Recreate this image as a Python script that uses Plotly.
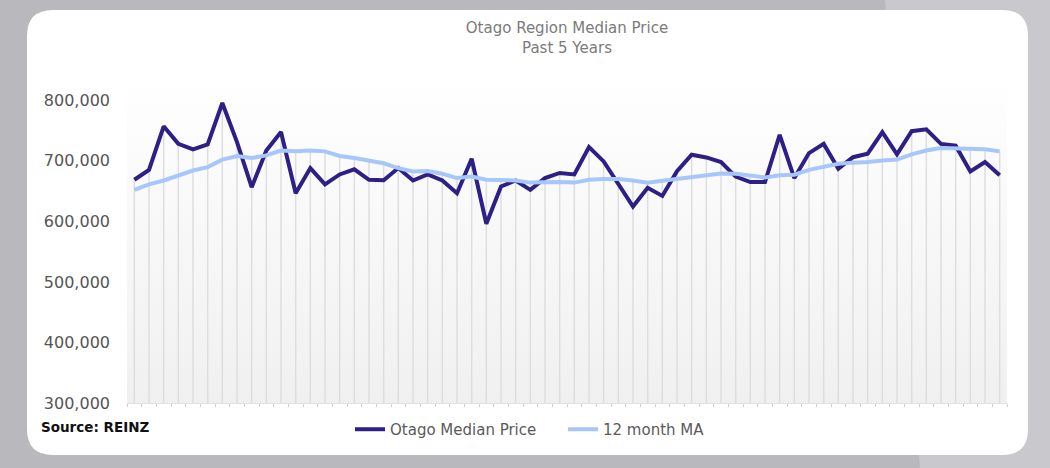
import plotly.graph_objects as go

# monthly values, last 5 years (60 months)
months = list(range(60))
median_price = [
    668700, 685000, 757000, 728000, 719000, 727000, 795500, 731000, 656500, 717000,
    747500, 646500, 688000, 661000, 677500, 686000, 668700, 668000, 688000, 667500,
    677500, 667500, 646500, 703500, 596000, 657600, 667500, 652000, 671500, 680000,
    677500, 722700, 699000, 660400, 624500, 655400, 642000, 683000, 710000, 705600,
    698000, 674000, 665000, 665000, 743000, 671500, 712800, 728000, 687000, 706000,
    711700, 747500, 710600, 749000, 752000, 728000, 725000, 682500, 698000, 676000,
]
ma_12 = [
    652000, 661000, 667500, 676000, 684000, 689600, 702000, 708000, 704500, 709000,
    717000, 715600, 717000, 715600, 708000, 704500, 700700, 696000, 688000, 682500,
    683000, 678600, 671500, 674000, 668700, 668000, 667500, 664000, 664700, 665000,
    664000, 668700, 670000, 670000, 667500, 663700, 667000, 670000, 673000, 677000,
    679000, 678600, 676000, 672500, 676000, 677000, 685000, 690700, 695000, 697000,
    698000, 700700, 702000, 710600, 717000, 721000, 720000, 720500, 719000, 715600,
]
y_ticks = [300000, 400000, 500000, 600000, 700000, 800000]
y_min, y_max = 300000, 850000

W, H = 1050, 468
ML, MR, MT, MB = 127, 43, 70, 65
PW, PH = W - ML - MR, H - MT - MB
FONT = "DejaVu Sans"


def px(x):
    return (x - ML) / PW


def py(y):
    return (H - MB - y) / PH


def rounded_rect(x0, y0, x1, y1, r):
    pts = [
        f"M {px(x0 + r)},{py(y0)}",
        f"L {px(x1 - r)},{py(y0)}",
        f"Q {px(x1)},{py(y0)} {px(x1)},{py(y0 + r)}",
        f"L {px(x1)},{py(y1 - r)}",
        f"Q {px(x1)},{py(y1)} {px(x1 - r)},{py(y1)}",
        f"L {px(x0 + r)},{py(y1)}",
        f"Q {px(x0)},{py(y1)} {px(x0)},{py(y1 - r)}",
        f"L {px(x0)},{py(y0 + r)}",
        f"Q {px(x0)},{py(y0)} {px(x0 + r)},{py(y0)}",
        "Z",
    ]
    return " ".join(pts)


fig = go.Figure()

# plot area gradient background
fig.add_trace(go.Scatter(
    x=[-0.5, 59.5, 59.5, -0.5, -0.5], y=[y_min, y_min, y_max, y_max, y_min],
    mode="lines", line=dict(width=0), fill="toself",
    fillgradient=dict(type="vertical", colorscale=[[0, "#f0f0f0"], [1, "#ffffff"]]),
    hoverinfo="skip", showlegend=False,
))

# drop lines
drop_x, drop_y = [], []
for m, a, b in zip(months, median_price, ma_12):
    drop_x += [m, m, None]
    drop_y += [y_min, max(a, b), None]
fig.add_trace(go.Scatter(
    x=drop_x, y=drop_y, mode="lines", line=dict(color="#dedede", width=1.5),
    hoverinfo="skip", showlegend=False,
))

fig.add_trace(go.Scatter(
    x=months, y=median_price, mode="lines", name="Otago Median Price",
    line=dict(color="#2d1f86", width=4),
))
fig.add_trace(go.Scatter(
    x=months, y=ma_12, mode="lines", name="12 month MA",
    line=dict(color="#a7c7fb", width=4),
))

shapes = [
    dict(type="path", xref="paper", yref="paper", layer="below",
         path=f"M {px(885)},{py(0)} L {px(1050)},{py(0)} L {px(1050)},{py(468)} L {px(920)},{py(468)} Z",
         fillcolor="#c9c8cd", line=dict(width=0)),
    dict(type="path", xref="paper", yref="paper", layer="below",
         path=rounded_rect(27, 10, 1028, 455, 26),
         fillcolor="#ffffff", line=dict(width=0)),
]

fig.update_layout(
    width=W, height=H,
    margin=dict(l=ML, r=MR, t=MT, b=MB),
    paper_bgcolor="#b9b8bd",
    plot_bgcolor="rgba(0,0,0,0)",
    font=dict(family=FONT, color="#555555"),
    title=dict(
        text="Otago Region Median Price<br>Past 5 Years",
        x=0.5, xref="paper", xanchor="center",
        y=1 - 33 / H, yanchor="top",
        font=dict(size=15, color="#7b7b7b"),
    ),
    shapes=shapes,
    xaxis=dict(
        range=[-0.5, 59.5], showgrid=False, showticklabels=False, zeroline=False,
        tickmode="array", tickvals=[m - 0.5 for m in months] + [59.5],
        ticks="outside", ticklen=3, tickcolor="#d0d0d0",
        showline=True, linecolor="#e0e0e0", linewidth=1,
    ),
    yaxis=dict(
        range=[y_min, y_max], tickvals=y_ticks, tickformat=",",
        showgrid=False, zeroline=False, showline=False,
        tickfont=dict(size=16, color="#555555"), ticks="", ticklabelstandoff=16,
    ),
    legend=dict(
        orientation="h", x=px(350), xanchor="left", y=-0.03, yanchor="top",
        font=dict(size=15, color="#5a5a5a"), bgcolor="rgba(0,0,0,0)",
        traceorder="normal", entrywidth=168, entrywidthmode="pixels",
    ),
    annotations=[dict(
        text="<b>Source: REINZ</b>", xref="paper", yref="paper",
        x=px(39), y=py(427), xanchor="left", yanchor="middle", showarrow=False,
        font=dict(size=13.5, color="#111111"),
    )],
)

fig.write_html("out.html", config={"displayModeBar": False},
               post_script="document.body.style.margin='0px';")
